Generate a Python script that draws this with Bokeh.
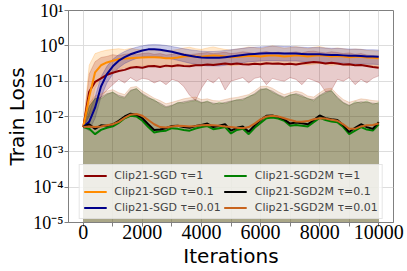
from bokeh.plotting import figure
from bokeh.models import Range1d, FixedTicker, CustomJSTickFormatter, Legend, LegendItem
from bokeh.embed import file_html
from bokeh.resources import INLINE

# iterations sampled every 200 steps
iterations = list(range(0, 10001, 200))

# All series below are log10(train loss).
# Clip21-SGD tau=1 (dark red)
sgd_t1_mean = [-2.30, -1.30, -1.02, -0.92, -0.82, -0.76, -0.71, -0.68, -0.62, -0.60, -0.62,
               -0.58, -0.57, -0.60, -0.56, -0.58, -0.55, -0.57, -0.58, -0.55, -0.55,
               -0.53, -0.54, -0.52, -0.50, -0.52, -0.50, -0.52, -0.53, -0.51, -0.52,
               -0.49, -0.51, -0.50, -0.52, -0.51, -0.53, -0.50, -0.48, -0.46, -0.47,
               -0.50, -0.48, -0.50, -0.53, -0.52, -0.55, -0.54, -0.57, -0.60, -0.62]
sgd_t1_upper = [-2.30, -0.80, -0.45, -0.33, -0.30, -0.25, -0.28, -0.24, -0.22, -0.25, -0.22,
                -0.20, -0.24, -0.22, -0.26, -0.24, -0.20, -0.22, -0.25, -0.23, -0.21,
                -0.19, -0.22, -0.20, -0.18, -0.22, -0.20, -0.17, -0.19, -0.21, -0.18,
                -0.16, -0.20, -0.18, -0.21, -0.19, -0.17, -0.20, -0.16, -0.15, -0.18,
                -0.20, -0.17, -0.19, -0.22, -0.20, -0.24, -0.22, -0.26, -0.28, -0.30]
sgd_t1_lower = [-2.30, -2.00, -1.70, -1.45, -1.25, -1.10, -0.95, -1.05, -0.90, -1.00, -0.92,
                -0.95, -1.05, -0.98, -1.10, -0.95, -1.00, -1.15, -1.40, -1.55, -1.20,
                -0.95, -1.05, -0.90, -1.25, -1.00, -0.95, -0.90, -1.05, -0.92, -0.88,
                -1.10, -0.92, -0.97, -1.00, -0.90, -0.95, -1.10, -0.92, -0.98, -1.05,
                -1.30, -1.25, -0.95, -1.00, -0.90, -1.10, -0.95, -1.05, -0.92, -0.85]

# Clip21-SGD tau=0.1 (dark orange)
sgd_t01_mean = [-2.30, -1.45, -0.75, -0.55, -0.47, -0.42, -0.38, -0.36, -0.35, -0.34, -0.33,
                -0.32, -0.32, -0.33, -0.35, -0.35, -0.33, -0.30, -0.29, -0.30, -0.31,
                -0.29, -0.27, -0.28, -0.30, -0.32, -0.31, -0.30, -0.28, -0.29, -0.30,
                -0.28, -0.27, -0.28, -0.30, -0.29, -0.27, -0.28, -0.30, -0.28, -0.27,
                -0.28, -0.30, -0.29, -0.30, -0.32, -0.31, -0.31, -0.33, -0.34, -0.35]
sgd_t01_upper = [-2.30, -0.55, -0.22, -0.16, -0.12, -0.10, -0.08, -0.11, -0.07, -0.10, -0.12,
                 -0.10, -0.13, -0.14, -0.16, -0.13, -0.10, -0.06, -0.04, -0.08, -0.10,
                 -0.06, -0.03, -0.07, -0.10, -0.12, -0.09, -0.07, -0.03, -0.05, -0.08,
                 -0.04, 0.00, -0.03, -0.07, -0.05, -0.02, -0.05, -0.08, -0.04, -0.02,
                 -0.06, -0.09, -0.06, -0.08, -0.11, -0.09, -0.10, -0.13, -0.14, -0.15]
sgd_t01_lower = [-2.30, -2.00, -1.20, -0.92, -0.80, -0.72, -0.66, -0.62, -0.60, -0.58, -0.56,
                 -0.55, -0.55, -0.57, -0.60, -0.60, -0.58, -0.55, -0.53, -0.54, -0.56,
                 -0.53, -0.50, -0.52, -0.54, -0.56, -0.55, -0.53, -0.51, -0.52, -0.54,
                 -0.52, -0.50, -0.51, -0.54, -0.53, -0.51, -0.52, -0.54, -0.52, -0.50,
                 -0.52, -0.55, -0.53, -0.54, -0.56, -0.55, -0.55, -0.57, -0.58, -0.60]

# Clip21-SGD tau=0.01 (dark blue)
sgd_t001_mean = [-2.30, -2.15, -1.75, -1.15, -0.80, -0.58, -0.42, -0.32, -0.24, -0.18, -0.13,
                 -0.10, -0.10, -0.11, -0.14, -0.17, -0.21, -0.25, -0.28, -0.31, -0.33,
                 -0.34, -0.34, -0.34, -0.32, -0.30, -0.28, -0.26, -0.24, -0.23, -0.22,
                 -0.21, -0.21, -0.21, -0.22, -0.22, -0.22, -0.23, -0.24, -0.24, -0.24,
                 -0.25, -0.26, -0.26, -0.27, -0.28, -0.28, -0.29, -0.30, -0.30, -0.31]
sgd_t001_upper = [-2.30, -1.90, -1.45, -0.88, -0.58, -0.38, -0.25, -0.16, -0.09, -0.04, 0.00,
                  0.03, 0.04, 0.03, 0.01, -0.02, -0.05, -0.08, -0.11, -0.13, -0.15,
                  -0.16, -0.16, -0.15, -0.13, -0.11, -0.09, -0.07, -0.05, -0.04, -0.03,
                  -0.02, -0.01, -0.01, -0.02, -0.02, -0.03, -0.04, -0.05, -0.05, -0.05,
                  -0.06, -0.07, -0.07, -0.08, -0.09, -0.09, -0.10, -0.11, -0.11, -0.12]
sgd_t001_lower = [-2.30, -2.40, -2.05, -1.45, -1.05, -0.80, -0.62, -0.50, -0.42, -0.36, -0.32,
                  -0.30, -0.30, -0.31, -0.34, -0.37, -0.41, -0.45, -0.49, -0.52, -0.55,
                  -0.57, -0.57, -0.57, -0.55, -0.52, -0.50, -0.48, -0.45, -0.44, -0.43,
                  -0.42, -0.42, -0.42, -0.43, -0.43, -0.43, -0.44, -0.45, -0.45, -0.46,
                  -0.47, -0.48, -0.48, -0.49, -0.50, -0.50, -0.51, -0.52, -0.52, -0.53]

# Clip21-SGD2M tau=1 (green)
sgd2m_t1_mean = [-2.30, -2.35, -2.50, -2.38, -2.32, -2.28, -2.18, -2.05, -1.98, -2.00, -2.12,
                 -2.30, -2.45, -2.42, -2.40, -2.33, -2.35, -2.38, -2.40, -2.34, -2.30,
                 -2.27, -2.36, -2.33, -2.30, -2.48, -2.38, -2.35, -2.50, -2.32, -2.18,
                 -2.05, -2.03, -2.06, -2.12, -2.26, -2.24, -2.26, -2.28, -2.16, -2.04,
                 -2.10, -2.14, -2.16, -2.30, -2.50, -2.40, -2.30, -2.37, -2.40, -2.22]
sgd2m_t1_upper = [-2.30, -1.72, -1.48, -1.50, -1.38, -1.30, -1.44, -1.48, -1.28, -1.20, -1.38,
                  -1.48, -1.52, -1.66, -1.75, -1.70, -1.60, -1.62, -1.58, -1.55, -1.62,
                  -1.56, -1.66, -1.60, -1.64, -1.58, -1.52, -1.54, -1.42, -1.38, -1.25,
                  -1.20, -1.32, -1.40, -1.48, -1.38, -1.38, -1.44, -1.48, -1.56, -1.42,
                  -1.34, -1.26, -1.48, -1.62, -1.70, -1.58, -1.62, -1.56, -1.66, -1.60]

# Clip21-SGD2M tau=0.1 (black)
sgd2m_t01_mean = [-2.30, -2.22, -2.35, -2.25, -2.26, -2.22, -2.12, -2.00, -1.92, -1.95, -2.05,
                  -2.22, -2.38, -2.37, -2.33, -2.27, -2.26, -2.30, -2.32, -2.27, -2.24,
                  -2.20, -2.30, -2.26, -2.22, -2.40, -2.32, -2.28, -2.43, -2.25, -2.10,
                  -1.98, -1.97, -2.01, -2.08, -2.20, -2.17, -2.19, -2.22, -2.10, -1.97,
                  -2.05, -2.08, -2.10, -2.25, -2.44, -2.32, -2.22, -2.30, -2.35, -2.16]
sgd2m_t01_upper = [-2.30, -1.70, -1.50, -1.45, -1.35, -1.32, -1.40, -1.45, -1.25, -1.22, -1.35,
                   -1.45, -1.55, -1.62, -1.72, -1.68, -1.62, -1.58, -1.55, -1.52, -1.60,
                   -1.58, -1.62, -1.64, -1.60, -1.56, -1.54, -1.50, -1.45, -1.35, -1.22,
                   -1.22, -1.28, -1.38, -1.45, -1.40, -1.35, -1.40, -1.50, -1.52, -1.40,
                   -1.30, -1.28, -1.45, -1.60, -1.68, -1.62, -1.58, -1.60, -1.62, -1.64]

# Clip21-SGD2M tau=0.01 (brown)
sgd2m_t001_mean = [-2.30, -2.28, -2.30, -2.28, -2.25, -2.22, -2.15, -2.04, -1.95, -1.93, -1.98,
                   -2.10, -2.22, -2.30, -2.31, -2.28, -2.26, -2.27, -2.28, -2.27, -2.25,
                   -2.24, -2.25, -2.26, -2.28, -2.30, -2.32, -2.33, -2.30, -2.20, -2.08,
                   -2.00, -1.98, -2.00, -2.05, -2.10, -2.14, -2.15, -2.13, -2.08, -2.05,
                   -2.06, -2.09, -2.12, -2.22, -2.35, -2.35, -2.28, -2.25, -2.24, -2.20]
sgd2m_t001_upper = [-2.30, -1.62, -1.42, -1.36, -1.28, -1.24, -1.33, -1.38, -1.18, -1.15, -1.28,
                    -1.38, -1.48, -1.55, -1.64, -1.60, -1.55, -1.50, -1.47, -1.45, -1.52,
                    -1.50, -1.55, -1.56, -1.52, -1.48, -1.46, -1.42, -1.38, -1.28, -1.15,
                    -1.14, -1.20, -1.30, -1.38, -1.33, -1.28, -1.32, -1.42, -1.45, -1.33,
                    -1.22, -1.20, -1.38, -1.52, -1.60, -1.55, -1.50, -1.52, -1.55, -1.56]

# lower edge of the three SGD2M bands lies below the axis (under 1e-5)
sgd2m_lower = [-6.0] * len(iterations)

labels = ["Clip21-SGD τ=1", "Clip21-SGD τ=0.1", "Clip21-SGD τ=0.01",
          "Clip21-SGD2M τ=1", "Clip21-SGD2M τ=0.1", "Clip21-SGD2M τ=0.01"]
colors = ["#8B0000", "#FF8C00", "#00008B", "#008000", "#000000", "#C8641E"]

x_ticks = [0, 2000, 4000, 6000, 8000, 10000]
x_minor_ticks = [1000, 3000, 5000, 7000, 9000]
y_ticks = [1e-5, 1e-4, 1e-3, 1e-2, 1e-1, 1e0, 1e1]

means = [sgd_t1_mean, sgd_t01_mean, sgd_t001_mean, sgd2m_t1_mean, sgd2m_t01_mean, sgd2m_t001_mean]
uppers = [sgd_t1_upper, sgd_t01_upper, sgd_t001_upper, sgd2m_t1_upper, sgd2m_t01_upper, sgd2m_t001_upper]
lowers = [sgd_t1_lower, sgd_t01_lower, sgd_t001_lower, sgd2m_lower, sgd2m_lower, sgd2m_lower]


def to_loss(exps):
    return [10.0 ** e for e in exps]


p = figure(width=407, height=271, y_axis_type="log",
           x_range=Range1d(-500, 10500), y_range=Range1d(1e-5, 10),
           output_backend="svg", toolbar_location=None,
           min_border_left=68, min_border_right=14, min_border_top=10, min_border_bottom=49)
p.background_fill_color = "white"
p.outline_line_color = "#808080"
p.outline_line_width = 1

# bands
for col, up, lo in zip(colors, uppers, lowers):
    p.varea(x=iterations, y1=to_loss(lo), y2=to_loss(up), fill_color=col, fill_alpha=0.2)
    p.line(x=iterations, y=to_loss(up), line_color=col, line_alpha=0.35, line_width=0.6)
    p.line(x=iterations, y=to_loss(lo), line_color=col, line_alpha=0.35, line_width=0.6)

# mean lines
line_renderers = []
for col, m in zip(colors, means):
    r = p.line(x=iterations, y=to_loss(m), line_color=col, line_width=2)
    line_renderers.append(r)

# axes
p.xaxis.ticker = FixedTicker(ticks=x_ticks, minor_ticks=x_minor_ticks)
p.yaxis.ticker = FixedTicker(ticks=y_ticks)
p.yaxis.formatter = CustomJSTickFormatter(code="""
const e = Math.round(Math.log10(tick));
const m = {"-": "\u207b", "0": "\u2070", "1": "\u00b9", "2": "\u00b2", "3": "\u00b3",
           "4": "\u2074", "5": "\u2075", "6": "\u2076"};
let s = "";
for (const c of String(e)) { s += m[c]; }
return "10" + s;
""")

for ax in (p.xaxis, p.yaxis):
    ax.axis_line_color = "#808080"
    ax.major_tick_line_color = "#808080"
    ax.minor_tick_line_color = "#808080"
    ax.major_tick_in = 0
    ax.major_tick_out = 4
    ax.minor_tick_in = 0
    ax.minor_tick_out = 4
    ax.major_label_text_font = "Liberation Serif"
    ax.major_label_text_color = "black"
    ax.axis_label_text_font = "DejaVu Sans"
    ax.axis_label_text_font_style = "normal"
    ax.axis_label_text_font_size = "20px"
    ax.axis_label_text_color = "black"

p.yaxis.minor_tick_line_color = None
p.xaxis.major_label_text_font_size = "20px"
p.yaxis.major_label_text_font_size = "18px"
p.xaxis.major_label_standoff = -2
p.yaxis.major_label_standoff = 1
p.xaxis.axis_label = "Iterations"
p.yaxis.axis_label = "Train Loss"
p.xaxis.axis_label_standoff = 2
p.yaxis.axis_label_standoff = 1

p.xgrid.grid_line_color = "#dddddd"
p.xgrid.minor_grid_line_color = "#dddddd"
p.ygrid.grid_line_color = "#dddddd"

legend = Legend(items=[LegendItem(label=lab, renderers=[r]) for lab, r in zip(labels, line_renderers)],
                ncols=2, location="bottom_center")
legend.label_text_font = "DejaVu Sans"
legend.label_text_font_size = "11px"
legend.background_fill_color = "white"
legend.background_fill_alpha = 0.8
legend.border_line_color = "#cccccc"
legend.border_line_width = 1
legend.padding = 4
legend.spacing = 3
legend.margin = 3
legend.glyph_width = 23
legend.glyph_height = 13
legend.label_height = 13
legend.label_standoff = 8
p.add_layout(legend)

open("out.html", "w").write(file_html(p, INLINE))
